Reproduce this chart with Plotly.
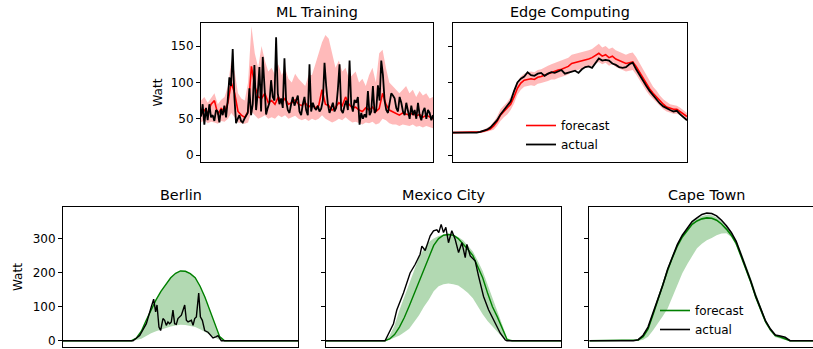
import plotly.graph_objects as go

# ---------------- data ----------------
# ML Training (actual at fine resolution, forecast/band at coarser resolution)
ML_ACTUAL = [53, 70, 42, 65, 48, 70, 52, 55, 47, 62, 60, 45, 63, 55, 68, 52, 75,
             107, 95, 146, 80, 44, 50, 55, 47, 45, 50, 55, 58, 92, 55, 70, 124, 62, 85, 121, 60, 135, 95, 56,
             65, 72, 103, 80, 75, 162, 85, 70, 78, 65, 133, 75, 62, 58, 70, 80, 68, 75, 82, 60,
             55, 70, 80, 62, 55, 125, 60, 72, 65, 62, 68, 60, 64, 75, 127, 95, 70, 58, 65, 72,
             60, 65, 90, 125, 62, 58, 68, 75, 62, 130, 70, 60, 76, 72, 80, 42, 58, 50, 56, 52,
             88, 55, 60, 95, 58, 62, 96, 75, 130, 110, 75, 62, 58, 75, 85, 82, 78, 65, 60, 80,
             72, 60, 55, 72, 60, 50, 68, 55, 62, 50, 72, 55, 48, 60, 65, 50, 62, 58, 48, 55]
ML_FORECAST = [55, 62, 58, 70, 75, 56, 64, 60, 72, 100,
               85, 60, 55, 52, 60, 122, 95, 80, 78, 85,
               72, 75, 70, 80, 72, 78, 70, 72, 76, 70,
               68, 72, 66, 70, 65, 68, 90, 70, 68, 62,
               66, 72, 68, 80, 70, 65, 66, 62, 60, 65,
               62, 66, 60, 64, 85, 70, 62, 60, 58, 55,
               58, 56, 55, 58, 54, 56, 52, 55, 52, 50]
ML_UPPER = [75, 80, 72, 78, 85, 70, 76, 80, 95, 130,
            115, 85, 78, 75, 100, 177, 140, 120, 150, 130,
            115, 120, 110, 125, 110, 120, 105, 100, 112, 105,
            100, 95, 110, 110, 125, 140, 155, 165, 160, 140,
            120, 130, 115, 120, 105, 110, 115, 100, 105, 95,
            110, 120, 100, 140, 145, 120, 100, 95, 90, 85,
            90, 95, 85, 90, 80, 88, 82, 85, 78, 80]
ML_LOWER = [45, 48, 44, 46, 45, 43, 47, 46, 50, 58,
            52, 45, 44, 43, 45, 60, 55, 50, 52, 55,
            50, 52, 50, 55, 52, 55, 50, 52, 54, 50,
            48, 50, 47, 50, 48, 50, 55, 50, 48, 45,
            47, 50, 48, 52, 48, 45, 46, 44, 42, 45,
            44, 46, 42, 44, 50, 48, 44, 42, 42, 40,
            42, 41, 40, 42, 39, 40, 38, 40, 38, 37]

# Edge Computing
EDGE_ACTUAL = [31, 31, 31, 30.5, 30.5, 30.5, 31, 31, 32, 33,
               35, 38, 43, 48, 56, 62, 67, 74, 88, 100,
               105, 108, 114, 110, 109, 112, 113, 109, 112, 114,
               113, 115, 117, 112, 113, 115, 116, 113, 118, 121,
               122, 120, 127, 133, 130, 131, 130, 126, 124, 121,
               120, 121, 125, 127, 118, 110, 101, 95, 88, 82,
               76, 71, 67, 64, 62, 60, 61, 56, 52, 48]
EDGE_FORECAST = [31, 31, 31, 31, 31, 31, 31, 31, 32, 33,
                 34, 36, 40, 46, 55, 60, 64, 70, 80, 92,
                 99, 103, 104, 105, 104, 107, 108, 110, 112, 114,
                 115, 117, 118, 120, 122, 126, 127, 128, 129, 131,
                 132, 134, 137, 140, 136, 138, 134, 136, 132, 130,
                 128, 126, 127, 128, 122, 114, 105, 98, 91, 85,
                 80, 74, 70, 66, 64, 63, 63, 60, 56, 53]
EDGE_UPPER = [32, 32, 32, 32, 32, 32, 32, 32, 33, 35,
              37, 40, 46, 53, 63, 68, 73, 80, 90, 101,
              108, 112, 114, 115, 114, 117, 118, 121, 123, 125,
              127, 129, 130, 132, 134, 138, 139, 140, 141, 143,
              144, 146, 149, 153, 148, 150, 146, 148, 144, 142,
              140, 138, 140, 141, 135, 127, 117, 109, 101, 94,
              89, 82, 77, 73, 70, 69, 68, 65, 61, 58]
EDGE_LOWER = [30, 30, 30, 30, 30, 30, 30, 30, 31, 31,
              32, 33, 35, 40, 47, 52, 56, 62, 71, 83,
              90, 94, 95, 96, 95, 98, 99, 100, 102, 104,
              104, 106, 107, 109, 111, 115, 116, 117, 118, 120,
              121, 123, 126, 128, 125, 127, 123, 125, 121, 119,
              117, 115, 116, 117, 111, 103, 95, 88, 82, 77,
              72, 67, 63, 60, 58, 57, 57, 55, 51, 48]

# Solar sites: half-hour grid 0..24 h
HOURS = [h / 2 for h in range(49)]

BERLIN_FORECAST = [0, 0, 0, 0, 0, 0, 0, 0, 0, 0, 0, 0, 0, 0, 0,
                   8, 28, 60, 92, 120, 145, 166, 185, 198, 205, 204, 197, 185, 160, 128, 90, 50, 12,
                   0, 0, 0, 0, 0, 0, 0, 0, 0, 0, 0, 0, 0, 0, 0, 0]
BERLIN_UPPER = [0, 0, 0, 0, 0, 0, 0, 0, 0, 0, 0, 0, 0, 0, 0,
                9, 29, 61, 93, 121, 146, 167, 186, 199, 206, 205, 198, 186, 161, 129, 91, 51, 13,
                0, 0, 0, 0, 0, 0, 0, 0, 0, 0, 0, 0, 0, 0, 0, 0]
BERLIN_LOWER = [0, 0, 0, 0, 0, 0, 0, 0, 0, 0, 0, 0, 0, 0, 0,
                2, 6, 15, 22, 28, 33, 38, 42, 45, 47, 46, 43, 40, 34, 26, 17, 8, 2,
                0, 0, 0, 0, 0, 0, 0, 0, 0, 0, 0, 0, 0, 0, 0, 0]
BERLIN_ACTUAL_HOURS = [0, 7.15, 7.83, 8.51, 9.02, 9.26, 9.46, 9.6, 9.8, 9.97,
                       10.21, 10.38, 10.55, 10.72, 10.89, 11.06, 11.23, 11.4, 11.57, 11.74,
                       12.09, 12.43, 12.6, 12.77, 13.11, 13.28, 13.45, 13.62, 13.86, 14.03,
                       14.23, 14.47, 14.81, 15.32, 15.66, 15.83, 16.17, 24]
BERLIN_ACTUAL = [0, 0, 15, 50, 100, 122, 85, 105, 40, 30,
                 65, 60, 45, 55, 50, 55, 90, 50, 48, 65,
                 75, 105, 60, 55, 60, 45, 65, 70, 140, 70,
                 60, 30, 25, 8, 12, 15, 0, 0]

MEXICO_FORECAST = [0, 0, 0, 0, 0, 0, 0, 0, 0, 0, 0, 0, 0,
                   5, 18, 40, 68, 102, 138, 175, 212, 248, 280, 300, 310, 312, 310, 300, 285, 268, 250,
                   215, 185, 140, 100, 70, 38, 3,
                   0, 0, 0, 0, 0, 0, 0, 0, 0, 0, 0]
MEXICO_UPPER = [0, 0, 0, 0, 0, 0, 0, 0, 0, 0, 0, 0, 0,
                15, 45, 90, 130, 170, 210, 245, 270, 290, 300, 308, 312, 315, 312, 305, 295, 280, 262,
                235, 205, 165, 125, 85, 45, 8,
                0, 0, 0, 0, 0, 0, 0, 0, 0, 0, 0]
MEXICO_LOWER = [0, 0, 0, 0, 0, 0, 0, 0, 0, 0, 0, 0, 0,
                3, 8, 15, 25, 35, 55, 75, 100, 120, 145, 160, 166, 168, 166, 162, 152, 140, 125,
                100, 78, 58, 42, 25, 10, 1,
                0, 0, 0, 0, 0, 0, 0, 0, 0, 0, 0]
MEXICO_ACTUAL_HOURS = [0, 6.03, 6.89, 7.23, 7.91, 8.59, 9.1, 9.61, 9.79, 10.13,
                       10.64, 10.98, 11.32, 11.52, 11.76, 12.0, 12.24, 12.51, 12.85, 13.19,
                       13.54, 13.88, 14.22, 14.39, 14.73, 15.24, 15.58, 16.09, 16.6, 16.95,
                       17.12, 17.46, 17.8, 18.31, 18.48, 24]
MEXICO_ACTUAL = [0, 0, 50, 90, 140, 199, 224, 254, 278, 265,
                 308, 323, 326, 318, 342, 318, 333, 288, 323, 298,
                 259, 288, 244, 283, 249, 234, 190, 130, 91, 71,
                 61, 41, 22, 2, 0, 0]

CAPE_ACTUAL = [0, 0, 0, 0, 0, 0, 0, 0, 0, 0,
               3, 16, 40, 80, 122, 163, 210, 248, 283, 310, 331, 350, 361, 371, 375, 374, 367,
               354, 338, 318, 292, 255, 215, 175, 131, 92, 58, 34, 17, 14, 10,
               0, 0, 0, 0, 0, 0, 0, 0]
CAPE_FORECAST = [0, 0, 0, 0, 0, 0, 0, 0, 0, 0,
                 2, 12, 35, 76, 120, 162, 207, 245, 279, 305, 325, 342, 352, 358, 361, 360, 354,
                 343, 328, 310, 286, 250, 212, 172, 128, 90, 56, 32, 15, 11, 6,
                 0, 0, 0, 0, 0, 0, 0, 0]
CAPE_UPPER = [0, 0, 0, 0, 0, 0, 0, 0, 0, 0,
              3, 15, 40, 80, 122, 163, 209, 247, 281, 308, 329, 347, 358, 366, 370, 369, 362,
              350, 334, 316, 295, 262, 225, 185, 142, 100, 62, 35, 16, 12, 8,
              0, 0, 0, 0, 0, 0, 0, 0]
CAPE_LOWER = [0, 0, 0, 0, 0, 0, 0, 0, 0, 0,
              0, 3, 12, 30, 50, 72, 95, 130, 165, 198, 225, 250, 272, 285, 295, 302, 310,
              315, 316, 305, 280, 245, 205, 165, 122, 85, 50, 27, 10, 5, 2,
              0, 0, 0, 0, 0, 0, 0, 0]

TITLES = ["ML Training", "Edge Computing", "Berlin", "Mexico City", "Cape Town"]
Y_LABEL = "Watt"
LEGEND_NAMES = ["forecast", "actual"]
TOP_TICKS = [0, 50, 100, 150]
BOTTOM_TICKS = [0, 100, 200, 300]

# ---------------- figure ----------------
W, H = 813, 349
RED, PINK = "#ff0000", "rgba(255,0,0,0.27)"
GREEN, LGREEN = "#008000", "rgba(0,128,0,0.3)"

ML_T = list(range(len(ML_ACTUAL)))
ML_TF = [j * (len(ML_ACTUAL) - 1) / (len(ML_FORECAST) - 1) for j in range(len(ML_FORECAST))]
EDGE_T = list(range(len(EDGE_ACTUAL)))

fig = go.Figure()


def band(x, lo, hi, color, xa, ya):
    fig.add_trace(go.Scatter(x=x, y=lo, mode="lines", line=dict(width=0, color=color),
                             showlegend=False, hoverinfo="skip", xaxis=xa, yaxis=ya))
    fig.add_trace(go.Scatter(x=x, y=hi, mode="lines", line=dict(width=0, color=color),
                             fill="tonexty", fillcolor=color, showlegend=False,
                             hoverinfo="skip", xaxis=xa, yaxis=ya))


def line(x, y, color, width, xa, ya, name=None, legend=None):
    fig.add_trace(go.Scatter(x=x, y=y, mode="lines", line=dict(color=color, width=width),
                             name=name, showlegend=legend is not None,
                             legend=legend or "legend", xaxis=xa, yaxis=ya))


# ML Training
band(ML_TF, ML_LOWER, ML_UPPER, PINK, "x", "y")
line(ML_TF, ML_FORECAST, RED, 1.6, "x", "y")
line(ML_T, ML_ACTUAL, "black", 1.8, "x", "y")
# Edge Computing
band(EDGE_T, EDGE_LOWER, EDGE_UPPER, PINK, "x2", "y2")
line(EDGE_T, EDGE_FORECAST, RED, 1.6, "x2", "y2", LEGEND_NAMES[0], "legend")
line(EDGE_T, EDGE_ACTUAL, "black", 1.8, "x2", "y2", LEGEND_NAMES[1], "legend")
# Berlin
band(HOURS, BERLIN_LOWER, BERLIN_UPPER, LGREEN, "x3", "y3")
line(HOURS, BERLIN_FORECAST, GREEN, 1.4, "x3", "y3")
line(BERLIN_ACTUAL_HOURS, BERLIN_ACTUAL, "black", 1.4, "x3", "y3")
# Mexico City
band(HOURS, MEXICO_LOWER, MEXICO_UPPER, LGREEN, "x4", "y4")
line(HOURS, MEXICO_FORECAST, GREEN, 1.4, "x4", "y4")
line(MEXICO_ACTUAL_HOURS, MEXICO_ACTUAL, "black", 1.4, "x4", "y4")
# Cape Town
band(HOURS, CAPE_LOWER, CAPE_UPPER, LGREEN, "x5", "y5")
line(HOURS, CAPE_FORECAST, GREEN, 1.6, "x5", "y5", LEGEND_NAMES[0], "legend2")
line(HOURS, CAPE_ACTUAL, "black", 1.6, "x5", "y5", LEGEND_NAMES[1], "legend2")


def px_x(a, b):
    return [a / W, min(b / W, 1.0)]


def px_y(top, bottom):
    return [1 - bottom / H, 1 - top / H]


X_DOM = [px_x(201, 433), px_x(453, 687), px_x(63, 298), px_x(326, 561), px_x(589.3, 813)]
Y_TOP = px_y(23.3, 162)
Y_BOT = px_y(207.3, 346.7)
X_RANGES = [[0, len(ML_ACTUAL) - 1], [0, len(EDGE_ACTUAL) - 1], [0, 24], [0, 24],
            [0, 24 * (813 - 589.3) / 235]]

xcommon = dict(showline=True, linecolor="black", linewidth=1, mirror=True,
               showticklabels=False, ticks="", showgrid=False, zeroline=False, fixedrange=True)
ycommon = dict(showline=True, linecolor="black", linewidth=1, mirror=True,
               ticks="outside", ticklen=4, tickwidth=1, tickcolor="black",
               showgrid=False, zeroline=False,
               tickfont=dict(size=12, color="black"))

layout = dict(width=W, height=H, margin=dict(l=0, r=0, t=0, b=0),
              paper_bgcolor="white", plot_bgcolor="white",
              font=dict(family="DejaVu Sans", size=12, color="black"))
for k in range(5):
    sfx = "" if k == 0 else str(k + 1)
    ya = "y" + sfx
    layout["xaxis" + sfx] = dict(xcommon, domain=X_DOM[k], range=X_RANGES[k], anchor=ya)
    top = k < 2
    yd = dict(ycommon, domain=Y_TOP if top else Y_BOT, anchor="x" + sfx,
              range=[-9.4, 181.2] if top else [-17.6, 392],
              tickvals=TOP_TICKS if top else BOTTOM_TICKS,
              showticklabels=(k in (0, 2)))
    if k == 4:
        yd["mirror"] = False
    layout["yaxis" + sfx] = yd

layout["legend"] = dict(x=521 / W, y=1 - 111 / H, xanchor="left", yanchor="top",
                        bgcolor="rgba(0,0,0,0)", font=dict(size=12, color="black"),
                        itemwidth=30, tracegroupgap=0, traceorder="normal")
layout["legend2"] = dict(x=655 / W, y=1 - 296 / H, xanchor="left", yanchor="top",
                         bgcolor="rgba(0,0,0,0)", font=dict(size=12, color="black"),
                         itemwidth=30, tracegroupgap=0, traceorder="normal")

annotations = []
title_y = [11.5, 11.5, 194.5, 194.5, 194.5]
for k, t in enumerate(TITLES):
    cx = (X_DOM[k][0] + X_DOM[k][1]) / 2 if k != 4 else (589.3 + 117.5) / W
    annotations.append(dict(text=t, x=cx, y=1 - title_y[k] / H, xref="paper", yref="paper",
                            xanchor="center", yanchor="middle", showarrow=False,
                            font=dict(size=14.4, color="black")))
annotations.append(dict(text=Y_LABEL, x=157 / W, y=1 - 92.5 / H, xref="paper", yref="paper",
                        xanchor="center", yanchor="middle", textangle=-90, showarrow=False,
                        font=dict(size=12, color="black")))
annotations.append(dict(text=Y_LABEL, x=18 / W, y=1 - 277 / H, xref="paper", yref="paper",
                        xanchor="center", yanchor="middle", textangle=-90, showarrow=False,
                        font=dict(size=12, color="black")))
layout["annotations"] = annotations
layout["showlegend"] = True

fig.update_layout(**layout)
fig.write_html("out.html", config={"displayModeBar": False},
               post_script="document.body.style.margin='0';document.body.style.overflow='hidden';")
